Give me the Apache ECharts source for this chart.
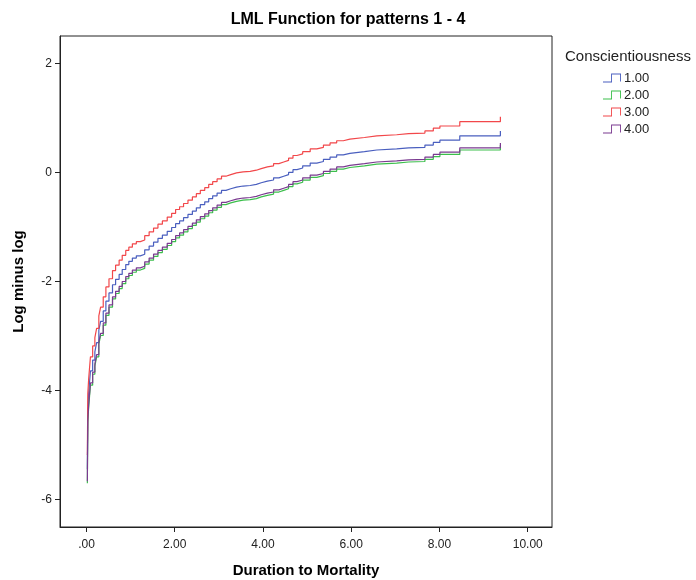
<!DOCTYPE html>
<html>
<head>
<meta charset="utf-8">
<script src="https://cdn.jsdelivr.net/npm/echarts@6/dist/echarts.min.js"></script>
<style>html,body{margin:0;padding:0;background:#fff;}#c{width:696px;height:580px;}</style>
</head>
<body>
<div id="c"></div>
<script>
var times = [0.02,0.03,0.05,0.09,0.14,0.19,0.23,0.28,0.32,0.38,0.44,0.51,0.59,0.66,0.74,0.81,0.89,0.96,1.04,1.13,1.22,1.32,1.42,1.52,1.62,1.72,1.83,1.93,2.02,2.11,2.20,2.30,2.40,2.49,2.58,2.68,2.77,2.86,2.96,3.06,3.16,3.27,3.40,3.55,3.71,3.85,3.96,4.10,4.24,4.36,4.47,4.58,4.68,4.77,4.90,5.07,5.22,5.37,5.52,5.67,5.82,5.97,6.30,6.58,7.03,7.30,7.67,7.86,8.01,8.46,9.38];
var group1 = [-5.44,-4.32,-4.04,-3.64,-3.44,-3.29,-3.12,-2.89,-2.73,-2.54,-2.36,-2.21,-2.06,-1.96,-1.87,-1.78,-1.69,-1.63,-1.57,-1.53,-1.50,-1.42,-1.35,-1.28,-1.21,-1.15,-1.08,-1.01,-0.94,-0.89,-0.83,-0.77,-0.71,-0.65,-0.59,-0.54,-0.48,-0.43,-0.38,-0.33,-0.30,-0.27,-0.25,-0.24,-0.22,-0.19,-0.16,-0.14,-0.10,-0.07,-0.04,0.00,0.05,0.08,0.12,0.17,0.20,0.24,0.28,0.32,0.35,0.38,0.41,0.43,0.45,0.46,0.50,0.55,0.59,0.67,0.76];
var group2 = [-5.70,-4.58,-4.30,-3.90,-3.70,-3.55,-3.38,-3.15,-2.99,-2.80,-2.62,-2.47,-2.32,-2.22,-2.13,-2.04,-1.95,-1.89,-1.83,-1.79,-1.76,-1.68,-1.61,-1.54,-1.47,-1.41,-1.34,-1.27,-1.20,-1.15,-1.09,-1.03,-0.97,-0.91,-0.85,-0.80,-0.74,-0.69,-0.64,-0.59,-0.56,-0.53,-0.51,-0.50,-0.48,-0.45,-0.42,-0.40,-0.36,-0.33,-0.30,-0.26,-0.21,-0.18,-0.14,-0.09,-0.06,-0.02,0.02,0.06,0.09,0.12,0.15,0.17,0.19,0.20,0.24,0.29,0.33,0.41,0.50];
var group3 = [-5.18,-4.06,-3.78,-3.38,-3.18,-3.03,-2.86,-2.63,-2.47,-2.28,-2.10,-1.95,-1.80,-1.70,-1.61,-1.52,-1.43,-1.37,-1.31,-1.27,-1.24,-1.16,-1.09,-1.02,-0.95,-0.89,-0.82,-0.75,-0.68,-0.63,-0.57,-0.51,-0.45,-0.39,-0.33,-0.28,-0.22,-0.17,-0.12,-0.07,-0.04,-0.01,0.01,0.02,0.04,0.07,0.10,0.12,0.16,0.19,0.22,0.26,0.31,0.34,0.38,0.43,0.46,0.50,0.54,0.58,0.61,0.64,0.67,0.69,0.71,0.72,0.76,0.81,0.85,0.93,1.02];
var group4 = [-5.66,-4.54,-4.26,-3.86,-3.66,-3.51,-3.34,-3.11,-2.95,-2.76,-2.58,-2.43,-2.28,-2.18,-2.09,-2.00,-1.91,-1.85,-1.79,-1.75,-1.72,-1.64,-1.57,-1.50,-1.43,-1.37,-1.30,-1.23,-1.16,-1.11,-1.05,-0.99,-0.93,-0.87,-0.81,-0.76,-0.70,-0.65,-0.60,-0.55,-0.52,-0.49,-0.47,-0.46,-0.44,-0.41,-0.38,-0.36,-0.32,-0.29,-0.26,-0.22,-0.17,-0.14,-0.10,-0.05,-0.02,0.02,0.06,0.10,0.13,0.16,0.19,0.21,0.23,0.24,0.28,0.33,0.37,0.45,0.54];
var seriesNames = ['1.00','2.00','3.00','4.00'];
var xTicks = [0,2,4,6,8,10];
var yTicks = [-6,-4,-2,0,2];

var colors = ['#4a5fbf','#3cbf4c','#f2474a','#7a3a90'];
var groups = [group1, group2, group3, group4];
function pairs(ys){ return times.map(function(t,i){ return [t, ys[i]]; }); }
var stepIcon = 'path://M0,9 L9,9 L9,0 L20,0 L20,9 L19,9 L19,1 L10,1 L10,10 L0,10 Z';
var FONT = 'Liberation Sans, Arial, sans-serif';

var chart = echarts.init(document.getElementById('c'));
chart.setOption({
  animation: false,
  backgroundColor: '#fff',
  title: [
    { text: 'LML Function for patterns 1 - 4', left: 'center', top: 7,
      textStyle: { fontFamily: FONT, fontSize: 16, fontWeight: 'bold', color: '#000' } },
    { text: 'Conscientiousness', left: 560, top: 44,
      textStyle: { fontFamily: FONT, fontSize: 15, fontWeight: 'normal', color: '#222' } }
  ],
  legend: {
    orient: 'vertical', left: 598, top: 66, itemWidth: 22, itemHeight: 9, itemGap: 3,
    icon: stepIcon,
    textStyle: { fontFamily: FONT, fontSize: 13, color: '#222', padding: [0,0,0,-4], lineHeight: 14 },
    data: seriesNames
  },
  grid: { left: 60, right: 144, top: 36, bottom: 53, show: true, borderColor: '#222', borderWidth: 1,
    outerBoundsMode: 'none', containLabel: false },
  xAxis: {
    type: 'value', min: -0.6, max: 10.55,
    name: 'Duration to Mortality', nameLocation: 'middle', nameGap: 36,
    nameTextStyle: { fontFamily: FONT, fontSize: 15, fontWeight: 'bold', color: '#000' },
    axisLine: { show: true, onZero: false, lineStyle: { color: '#222' } },
    axisTick: { show: true, inside: false, length: 5, customValues: xTicks, lineStyle: { color: '#222' } },
    axisLabel: { customValues: xTicks, margin: 12, fontFamily: FONT, fontSize: 12, color: '#222',
      formatter: function(v){ return v === 0 ? '.00' : v.toFixed(2); } },
    splitLine: { show: false }
  },
  yAxis: {
    type: 'value', min: -6.5, max: 2.5,
    name: 'Log minus log', nameLocation: 'middle', nameGap: 34,
    nameTextStyle: { fontFamily: FONT, fontSize: 15, fontWeight: 'bold', color: '#000' },
    axisLine: { show: true, onZero: false, lineStyle: { color: '#222' } },
    axisTick: { show: true, inside: false, length: 5, customValues: yTicks, lineStyle: { color: '#222' } },
    axisLabel: { customValues: yTicks, margin: 8, fontFamily: FONT, fontSize: 12, color: '#222',
      formatter: function(v){ return String(v); } },
    splitLine: { show: false }
  },
  series: groups.map(function(g, i){
    return {
      name: seriesNames[i], type: 'line', step: 'end', data: pairs(g),
      showSymbol: false, symbol: 'none', lineStyle: { width: 1.2, color: colors[i] },
      itemStyle: { color: colors[i] }
    };
  })
});
</script>
</body>
</html>
